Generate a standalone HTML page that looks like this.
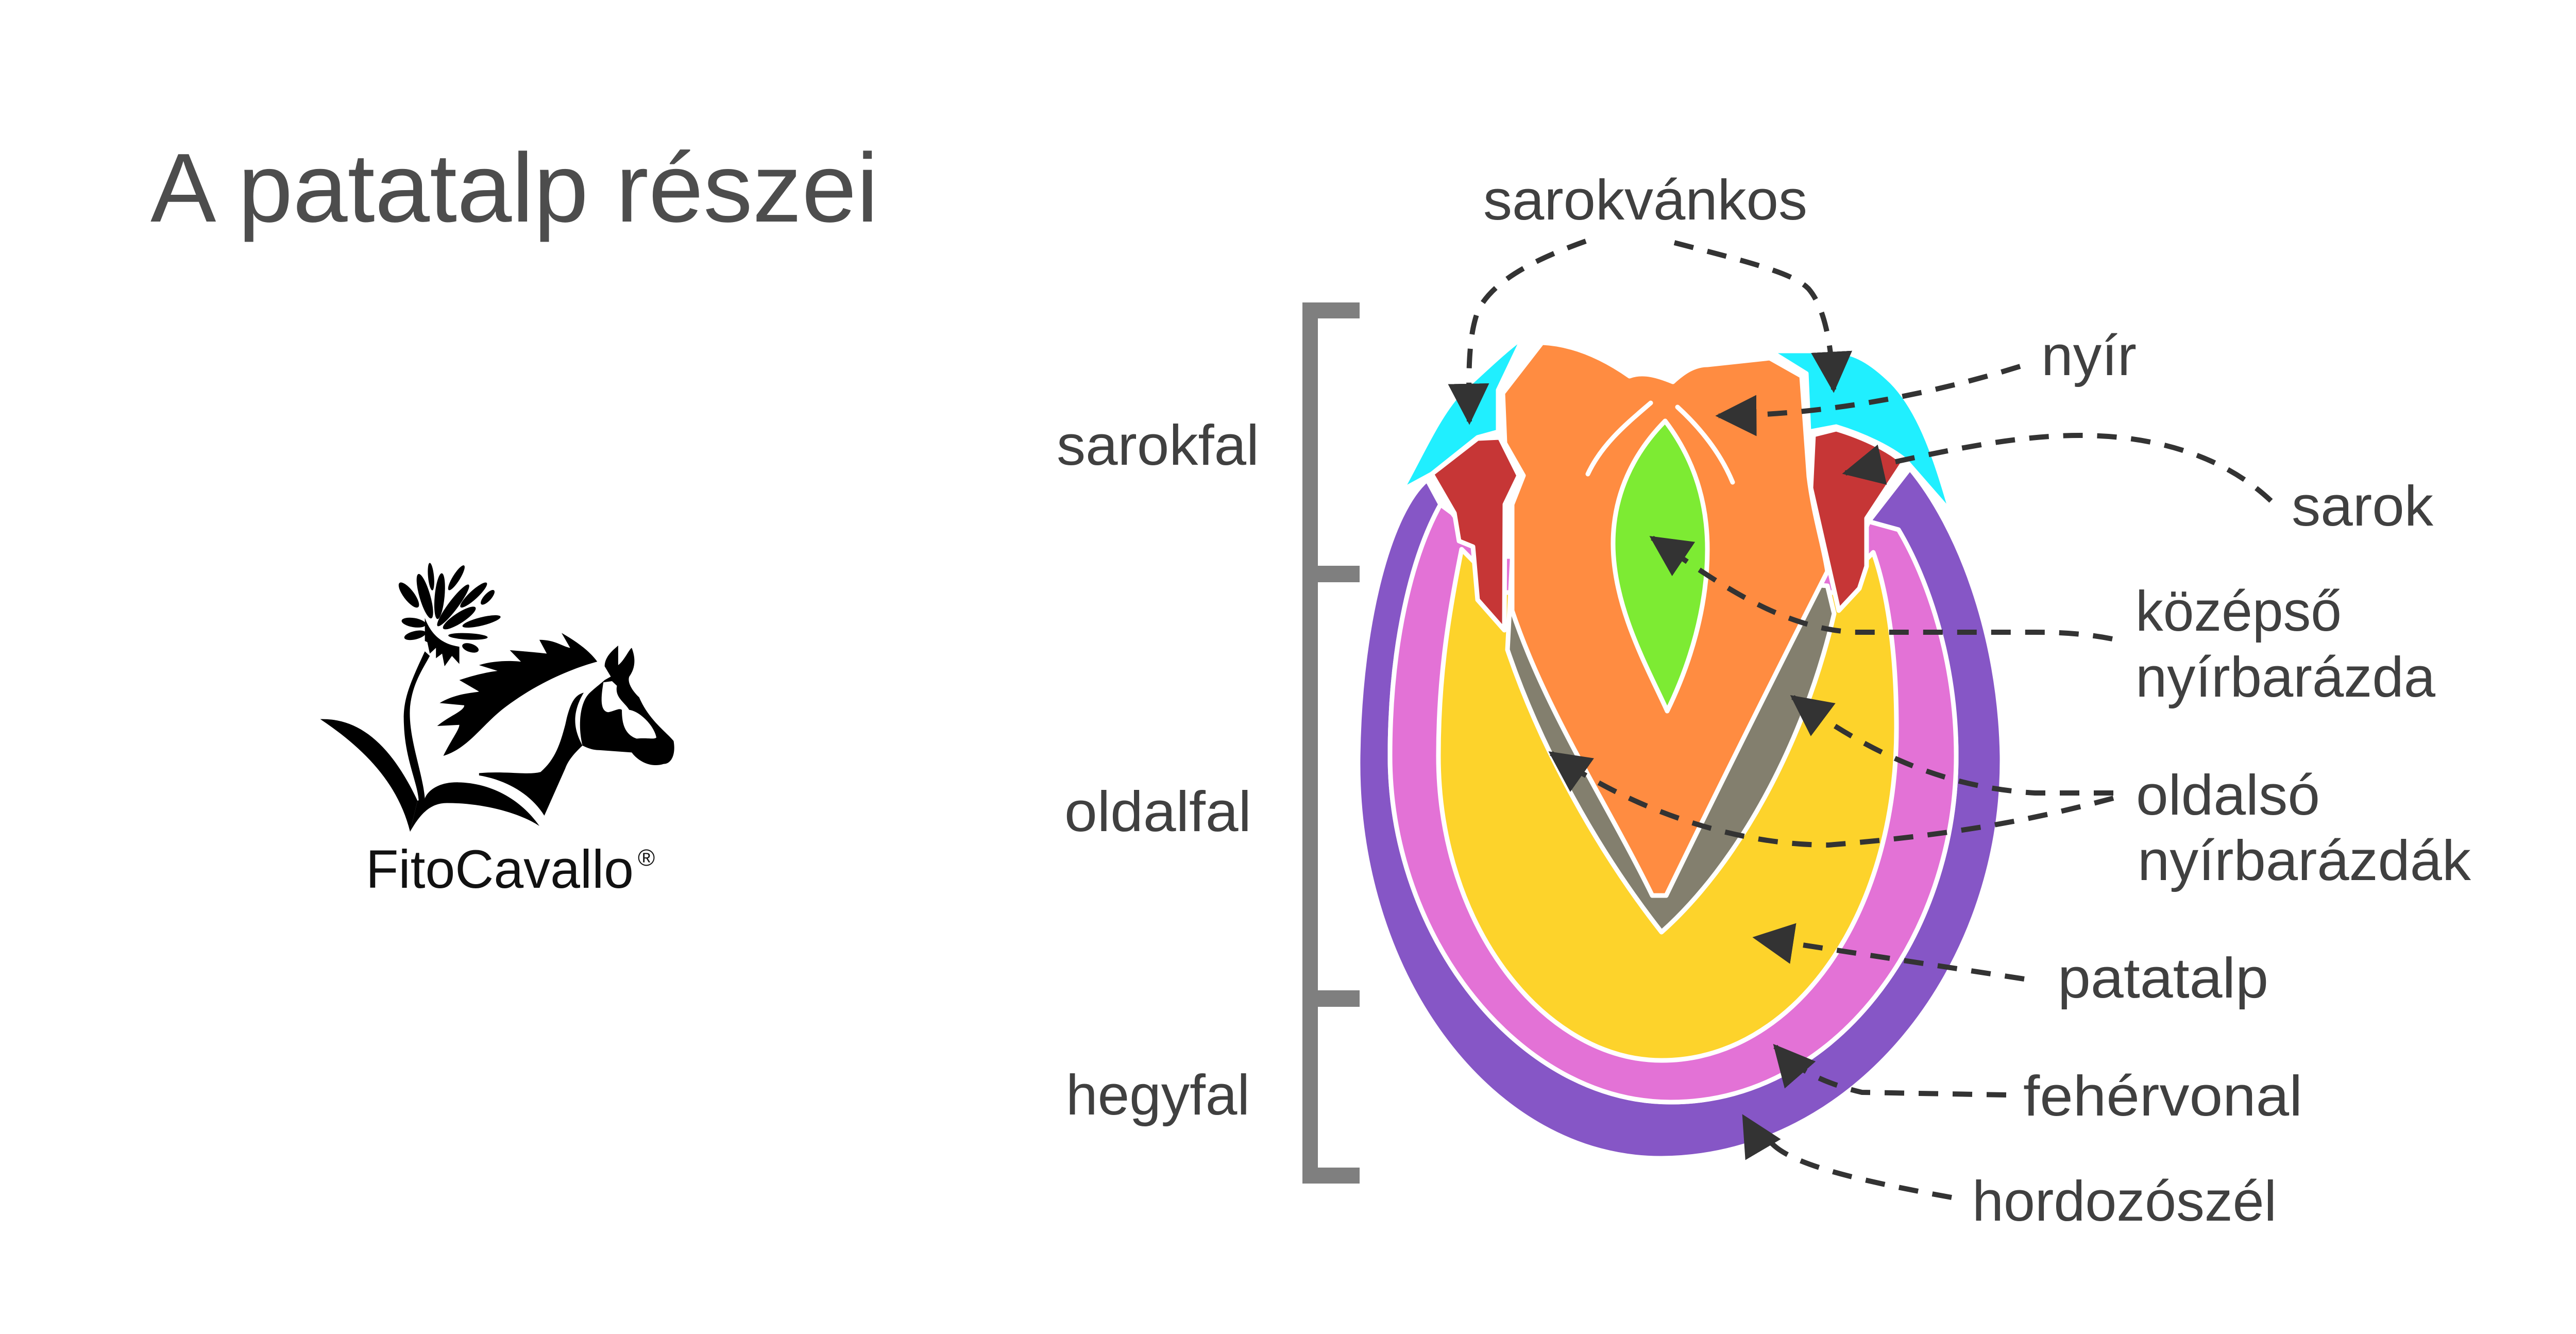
<!DOCTYPE html>
<html><head><meta charset="utf-8"><style>
html,body{margin:0;padding:0;background:#fff;overflow:hidden;}
svg{display:block;}
text{font-family:"Liberation Sans",sans-serif;fill:#404040;}
</style></head><body>
<svg width="5294" height="2589" viewBox="0 0 5294 2589" xmlns="http://www.w3.org/2000/svg">
<defs>
<marker id="ah" viewBox="0 0 6 6" markerWidth="8" markerHeight="8" refX="5.5" refY="3" orient="auto" markerUnits="strokeWidth">
<path d="M0,0 L6,3 L0,6 Z" fill="#333"/>
</marker>
</defs>
<rect width="5294" height="2589" fill="#fff"/>
<text x="292" y="430" font-size="190" style="fill:#4d4d4d" textLength="1413" lengthAdjust="spacingAndGlyphs">A patatalp részei</text>

<!-- logo -->
<g transform="translate(600,1050) scale(0.478,0.446)" fill="#000">
<path d="M45,775 C200,770 330,880 440,1130 L410,1265 C360,1050 220,900 45,775 Z"/>
<path d="M470,480 C400,640 380,700 385,800 C390,950 440,1050 445,1130 L470,1120 C460,1000 400,850 410,720 C420,620 460,560 490,500 Z"/>
<path d="M410,1265 C450,1190 490,1140 560,1140 C700,1140 850,1180 935,1240 C850,1110 720,1050 600,1050 C520,1050 480,1090 470,1120 L440,1130 Z"/>
<path d="M690,1010 C800,1000 890,1020 940,1005 C1000,950 1020,880 1040,800 C1060,700 1080,670 1115,660 C1060,760 1080,830 1110,890 C1070,930 1050,960 1040,990 L955,1195 C900,1100 800,1040 690,1020 Z"/>
<path d="M1170,525 C1100,545 950,600 800,720 C700,800 650,900 545,935 C580,860 610,820 610,800 L520,805 C570,760 630,740 630,715 L530,705 C600,660 680,660 690,655 L610,605 C680,580 730,570 765,565 L690,540 C750,520 820,520 860,525 L815,475 C870,480 930,485 965,490 L935,430 C1000,430 1030,460 1060,465 L1025,400 C1090,440 1140,480 1170,525 Z"/>
<path d="M1110,890 C1090,800 1100,700 1140,660 C1160,640 1190,615 1200,605 L1225,590 L1200,545 C1200,500 1240,470 1255,455 L1255,540 C1280,520 1300,470 1310,465 C1330,520 1320,560 1300,590 C1290,620 1320,660 1340,680 C1380,780 1450,830 1480,870 C1490,930 1470,970 1440,970 C1380,990 1330,950 1310,920 L1180,910 C1150,910 1130,900 1110,890 Z"/>
<path fill="#fff" d="M1195,615 C1185,680 1180,740 1215,745 C1240,740 1260,725 1270,735 C1270,780 1275,840 1330,860 C1370,855 1400,865 1410,855 C1400,800 1340,740 1300,735 C1280,700 1240,680 1250,630 L1230,610 Z"/>
<ellipse cx="405" cy="235" rx="65" ry="22" transform="rotate(55 405 235)"/>
<ellipse cx="470" cy="240" rx="100" ry="22" transform="rotate(75 470 240)"/>
<ellipse cx="495" cy="155" rx="60" ry="12" transform="rotate(85 495 155)"/>
<ellipse cx="530" cy="240" rx="100" ry="20" transform="rotate(-85 530 240)"/>
<ellipse cx="598" cy="160" rx="62" ry="15" transform="rotate(-60 598 160)"/>
<ellipse cx="585" cy="280" rx="110" ry="20" transform="rotate(-55 585 280)"/>
<ellipse cx="668" cy="235" rx="75" ry="18" transform="rotate(-45 668 235)"/>
<ellipse cx="725" cy="245" rx="40" ry="15" transform="rotate(-50 725 245)"/>
<ellipse cx="610" cy="335" rx="80" ry="22" transform="rotate(-35 610 335)"/>
<ellipse cx="700" cy="350" rx="80" ry="18" transform="rotate(-15 700 350)"/>
<ellipse cx="645" cy="415" rx="80" ry="14" transform="rotate(3 645 415)"/>
<ellipse cx="655" cy="465" rx="35" ry="18" transform="rotate(20 655 465)"/>
<ellipse cx="425" cy="355" rx="50" ry="20" transform="rotate(10 425 355)"/>
<ellipse cx="430" cy="410" rx="45" ry="18" transform="rotate(-15 430 410)"/>
<path d="M470,335 C500,420 550,450 610,460 L610,535 L580,500 L550,545 L540,490 L515,510 L515,465 L490,490 L480,440 L470,435 Z"/>
</g>
<text x="710" y="1723" font-size="105" style="fill:#111" textLength="520" lengthAdjust="spacingAndGlyphs">FitoCavallo</text>
<text x="1238" y="1680" font-size="45" style="fill:#111">®</text>

<!-- bracket -->
<g fill="#7f7f7f">
<rect x="2528" y="587" width="30" height="1710"/>
<rect x="2528" y="587" width="111" height="31"/>
<rect x="2528" y="1098" width="111" height="32"/>
<rect x="2528" y="1922" width="111" height="32"/>
<rect x="2528" y="2266" width="111" height="31"/>
</g>

<!-- hoof -->
<g stroke="#fff" stroke-width="9" stroke-linejoin="round">
<path fill="#8656c6" d="M2770,931 C2700,990 2640,1200 2636,1467 C2630,1900 2900,2250 3225,2248 C3600,2245 3890,1880 3886,1467 C3882,1230 3800,1020 3707,909 L3627,1012 C3720,1120 3797,1280 3797,1467 C3797,1820 3560,2139 3243,2139 C2950,2139 2698,1820 2698,1467 C2698,1250 2740,1080 2796,979 Z"/>
<path fill="#e372d6" d="M2796,979 C2740,1080 2698,1250 2698,1467 C2698,1820 2950,2139 3243,2139 C3560,2139 3797,1820 3797,1467 C3797,1280 3740,1120 3685,1028 L3627,1012 L3600,1080 L2880,1080 L2819,996 Z"/>
<path fill="#fdd32b" d="M2837,1066 C2810,1200 2792,1320 2792,1467 C2792,1800 3000,2058 3225,2058 C3480,2058 3681,1780 3681,1413 C3681,1250 3660,1140 3636,1072 L3560,1150 L2920,1150 Z"/>
<path fill="#837f6e" d="M2935,1088 L2926,1261 C2990,1450 3100,1650 3225,1809 C3370,1680 3500,1450 3560,1191 L3547,1137 Z"/>
<path fill="#ff8c41" d="M2993,665 C3060,668 3120,700 3163,730 C3190,720 3220,730 3247,741 C3270,720 3290,708 3314,708 L3435,695 L3497,730 L3511,925 C3520,1000 3540,1060 3547,1109 C3440,1320 3330,1540 3234,1738 L3207,1738 C3120,1560 3000,1380 2935,1185 L2935,979 L2957,923 L2921,860 L2917,763 Z"/>
<path fill="#7deb33" d="M3232,817 C3170,880 3131,960 3131,1055 C3131,1180 3200,1300 3236,1380 C3280,1290 3314,1180 3314,1066 C3314,960 3280,880 3232,817 Z"/>
<path fill="#20efff" d="M2720,952 C2760,880 2790,810 2832,763 C2880,720 2920,680 2957,654 L2908,757 L2908,838 L2868,849 L2779,920 Z"/>
<path fill="#20efff" d="M3435,681 L3506,725 L3511,838 L3564,828 C3620,845 3670,870 3698,893 L3788,996 C3760,900 3730,800 3672,741 C3630,700 3600,685 3564,681 Z"/>
<path fill="#c63636" d="M2779,920 L2868,851 L2911,849 L2948,923 L2921,979 L2920,1223 L2868,1164 L2859,1061 L2832,1050 L2823,996 Z"/>
<path fill="#c63636" d="M3520,844 L3564,833 C3620,850 3670,875 3694,898 L3623,1006 L3623,1099 L3609,1142 L3569,1185 L3547,1088 L3515,947 Z"/>
</g>
<g fill="none" stroke="#fff" stroke-width="9" stroke-linecap="round">
<path d="M3082,920 C3110,860 3160,820 3204,782"/>
<path d="M3256,790 C3300,830 3340,880 3363,936"/>
</g>

<!-- connectors -->
<g fill="none" stroke="#333" stroke-width="10" stroke-dasharray="38,28">
<path d="M3078,468 C2960,510 2898,550 2870,600 C2850,650 2850,720 2852,818" marker-end="url(#ah)"/>
<path d="M3250,471 C3400,510 3480,530 3510,560 C3545,600 3555,680 3559,756" marker-end="url(#ah)"/>
<path d="M3921,711 C3700,780 3500,806 3336,807" marker-end="url(#ah)"/>
<path d="M4408,972 C4300,870 4150,845 4038,845 C3900,845 3750,880 3582,918" marker-end="url(#ah)"/>
<path d="M4100,1240 C4050,1230 4000,1227 3950,1227 L3600,1227 C3450,1220 3320,1120 3207,1044" marker-end="url(#ah)"/>
<path d="M4102,1539 L3950,1539 C3800,1530 3650,1480 3480,1353" marker-end="url(#ah)"/>
<path d="M4102,1549 C3950,1590 3800,1620 3549,1640 C3350,1640 3150,1560 3011,1462" marker-end="url(#ah)"/>
<path d="M3929,1900 L3408,1820" marker-end="url(#ah)"/>
<path d="M3894,2125 L3614,2120 C3530,2100 3480,2070 3446,2031" marker-end="url(#ah)"/>
<path d="M3788,2324 C3600,2290 3480,2260 3440,2220 C3410,2200 3395,2185 3385,2168" marker-end="url(#ah)"/>
</g>

<!-- labels -->
<g font-size="110">
<text x="2051" y="902" textLength="393" lengthAdjust="spacingAndGlyphs">sarokfal</text>
<text x="2066" y="1613" textLength="363" lengthAdjust="spacingAndGlyphs">oldalfal</text>
<text x="2069" y="2163" textLength="357" lengthAdjust="spacingAndGlyphs">hegyfal</text>
<text x="2879" y="426" textLength="629" lengthAdjust="spacingAndGlyphs">sarokvánkos</text>
<text x="3962" y="728" textLength="185" lengthAdjust="spacingAndGlyphs">nyír</text>
<text x="4448" y="1020" textLength="275" lengthAdjust="spacingAndGlyphs">sarok</text>
<text x="4145" y="1224" textLength="400" lengthAdjust="spacingAndGlyphs">középső</text>
<text x="4145" y="1352" textLength="582" lengthAdjust="spacingAndGlyphs">nyírbarázda</text>
<text x="4146" y="1581" textLength="357" lengthAdjust="spacingAndGlyphs">oldalsó</text>
<text x="4149" y="1708" textLength="647" lengthAdjust="spacingAndGlyphs">nyírbarázdák</text>
<text x="3994" y="1936" textLength="409" lengthAdjust="spacingAndGlyphs">patatalp</text>
<text x="3927" y="2165" textLength="542" lengthAdjust="spacingAndGlyphs">fehérvonal</text>
<text x="3828" y="2369" textLength="591" lengthAdjust="spacingAndGlyphs">hordozószél</text>
</g>
</svg>
</body></html>
